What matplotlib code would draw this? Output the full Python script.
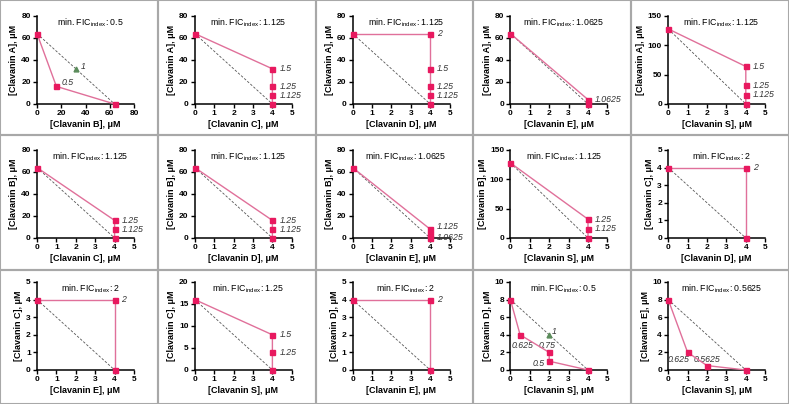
import matplotlib
matplotlib.use("Agg")
import matplotlib.pyplot as plt
from matplotlib.patches import Rectangle

plt.rcParams["font.family"] = ["Liberation Sans", "DejaVu Sans"]
plt.rcParams["mathtext.fontset"] = "custom"
plt.rcParams["mathtext.rm"] = "Liberation Sans"

# --- Data (one entry per panel, row by row) ---
y_drug = ["A", "A", "A", "A", "A",
          "B", "B", "B", "B", "C",
          "C", "C", "D", "D", "E"]
x_drug = ["B", "C", "D", "E", "S",
          "C", "D", "E", "S", "D",
          "E", "S", "E", "S", "S"]

combo_x = [
    [0, 16, 64],
    [0, 4, 4, 4, 4],
    [0, 4, 4, 4, 4, 4],
    [0, 4, 4],
    [0, 4, 4, 4, 4],
    [0, 4, 4, 4],
    [0, 4, 4, 4],
    [0, 4, 4, 4],
    [0, 4, 4, 4],
    [0, 4, 4],
    [0, 4, 4],
    [0, 4, 4, 4],
    [0, 4, 4],
    [0, 0.5, 2, 2, 4],
    [0, 1, 2, 4],
]
combo_y = [
    [64, 16, 0],
    [64, 32, 16, 8, 0],
    [64, 64, 32, 16, 8, 0],
    [64, 4, 0],
    [128, 64, 32, 16, 0],
    [64, 16, 8, 0],
    [64, 16, 8, 0],
    [64, 8, 4, 0],
    [128, 32, 16, 0],
    [4, 4, 0],
    [4, 4, 0],
    [16, 8, 4, 0],
    [4, 4, 0],
    [8, 4, 2, 1, 0],
    [8, 2, 0.5, 0],
]
combo_fic = [
    ["", "0.5", ""],
    ["", "1.5", "1.25", "1.125", ""],
    ["", "2", "1.5", "1.25", "1.125", ""],
    ["", "1.0625", ""],
    ["", "1.5", "1.25", "1.125", ""],
    ["", "1.25", "1.125", ""],
    ["", "1.25", "1.125", ""],
    ["", "1.125", "1.0625", ""],
    ["", "1.25", "1.125", ""],
    ["", "2", ""],
    ["", "2", ""],
    ["", "1.5", "1.25", ""],
    ["", "2", ""],
    ["", "0.625", "0.75", "0.5", ""],
    ["", "0.625", "0.5625", ""],
]
min_fic = ["0.5", "1.125", "1.125", "1.0625", "1.125",
           "1.125", "1.125", "1.0625", "1.125", "2",
           "2", "1.25", "2", "0.5", "0.5625"]
x_max = [80, 5, 5, 5, 5, 5, 5, 5, 5, 5, 5, 5, 5, 5, 5]
x_step = [20, 1, 1, 1, 1, 1, 1, 1, 1, 1, 1, 1, 1, 1, 1]
y_max = [80, 80, 80, 80, 150, 80, 80, 80, 150, 5, 5, 20, 5, 10, 10]
y_step = [20, 20, 20, 20, 50, 20, 20, 20, 50, 1, 1, 5, 1, 2, 2]
# additive (FIC = 1) marker on the dashed line: panel -> (x, y)
additive_pt = {0: (32, 32), 13: (2, 4)}

# label offsets (points, ha) where the default (right of the marker) does not fit
label_offsets = {
    (0, 1): (4, 3, "left"),
    (7, 1): (5, 2, "left"),
    (7, 2): (5, -3, "left"),
    (13, 1): (1.5, -7.5, "center"),
    (13, 2): (-1.5, 5, "center"),
    (13, 3): (-7.5, -1.5, "center"),
    (14, 1): (-6.5, -5, "center"),
    (14, 2): (0, 4.5, "center"),
}
additive_offsets = {0: (5, 2), 13: (3.5, 2.5)}

LINE_COLOR = "#e0709a"
MARK_COLOR = "#e8195f"

W, H = 789, 404
fig = plt.figure(figsize=(W / 100, H / 100), dpi=100)

col_w = W / 5
row_top = [0, 135, 270]
row_h = [135, 135, 134]
ax_bottom_px = [104, 238, 370]

for i in range(15):
    r, c = divmod(i, 5)
    # panel frame
    fig.patches.append(Rectangle((c * col_w / W, 1 - (row_top[r] + row_h[r]) / H),
                                 col_w / W, row_h[r] / H, transform=fig.transFigure,
                                 fill=False, edgecolor="#a8a8a8", linewidth=1.5))
    ax = fig.add_axes([(c * col_w + 37) / W, 1 - ax_bottom_px[r] / H, 97 / W, 88 / H])

    xs, ys = combo_x[i], combo_y[i]
    # additivity line between the two single-agent MICs
    ax.plot([xs[0], xs[-1]], [ys[0], ys[-1]], ls=(0, (3, 2)), color="#555555",
            lw=0.6, zorder=2)
    if i in additive_pt:
        px, py = additive_pt[i]
        ax.plot(px, py, marker="^", color="#5b8c5b", ms=3.5, zorder=3)
        ax.annotate("1", (px, py), xytext=additive_offsets[i], textcoords="offset points",
                    fontsize=6.3, style="italic", color="#333333",
                    ha="center", va="center")

    ax.plot(xs, ys, color=LINE_COLOR, lw=1.0, zorder=4)
    ax.plot(xs, ys, ls="none", marker="s", ms=3.6, color=MARK_COLOR, zorder=5)

    for j, lab in enumerate(combo_fic[i]):
        if not lab:
            continue
        dx, dy, ha = label_offsets.get((i, j), (5, 0, "left"))
        ax.annotate(lab, (xs[j], ys[j]), xytext=(dx, dy), textcoords="offset points",
                    fontsize=6.3, style="italic", color="#333333", ha=ha, va="center")

    ax.text(0.55, 0.92, r"min. FIC$_{\mathrm{index}}$: " + min_fic[i],
            transform=ax.transAxes, ha="center", va="center", fontsize=6.3)

    ax.set_xlim(0, x_max[i])
    ax.set_ylim(0, y_max[i])
    ax.set_xticks(range(0, x_max[i] + 1, x_step[i]))
    ax.set_yticks(range(0, y_max[i] + 1, y_step[i]))
    ax.set_xlabel(f"[Clavanin {x_drug[i]}], μM", fontsize=6.5, fontweight="bold",
                  labelpad=2)
    ax.set_ylabel(f"[Clavanin {y_drug[i]}], μM", fontsize=6.5, fontweight="bold",
                  labelpad=2)
    ax.spines["top"].set_visible(False)
    ax.spines["right"].set_visible(False)
    for s in ("left", "bottom"):
        ax.spines[s].set_linewidth(1.1)
    ax.tick_params(labelsize=6, width=1, length=3, pad=1.5)
    for t in ax.get_xticklabels() + ax.get_yticklabels():
        t.set_fontweight("bold")
    for ln in ax.lines:
        ln.set_clip_on(False)

fig.savefig("out.png", dpi=100)
